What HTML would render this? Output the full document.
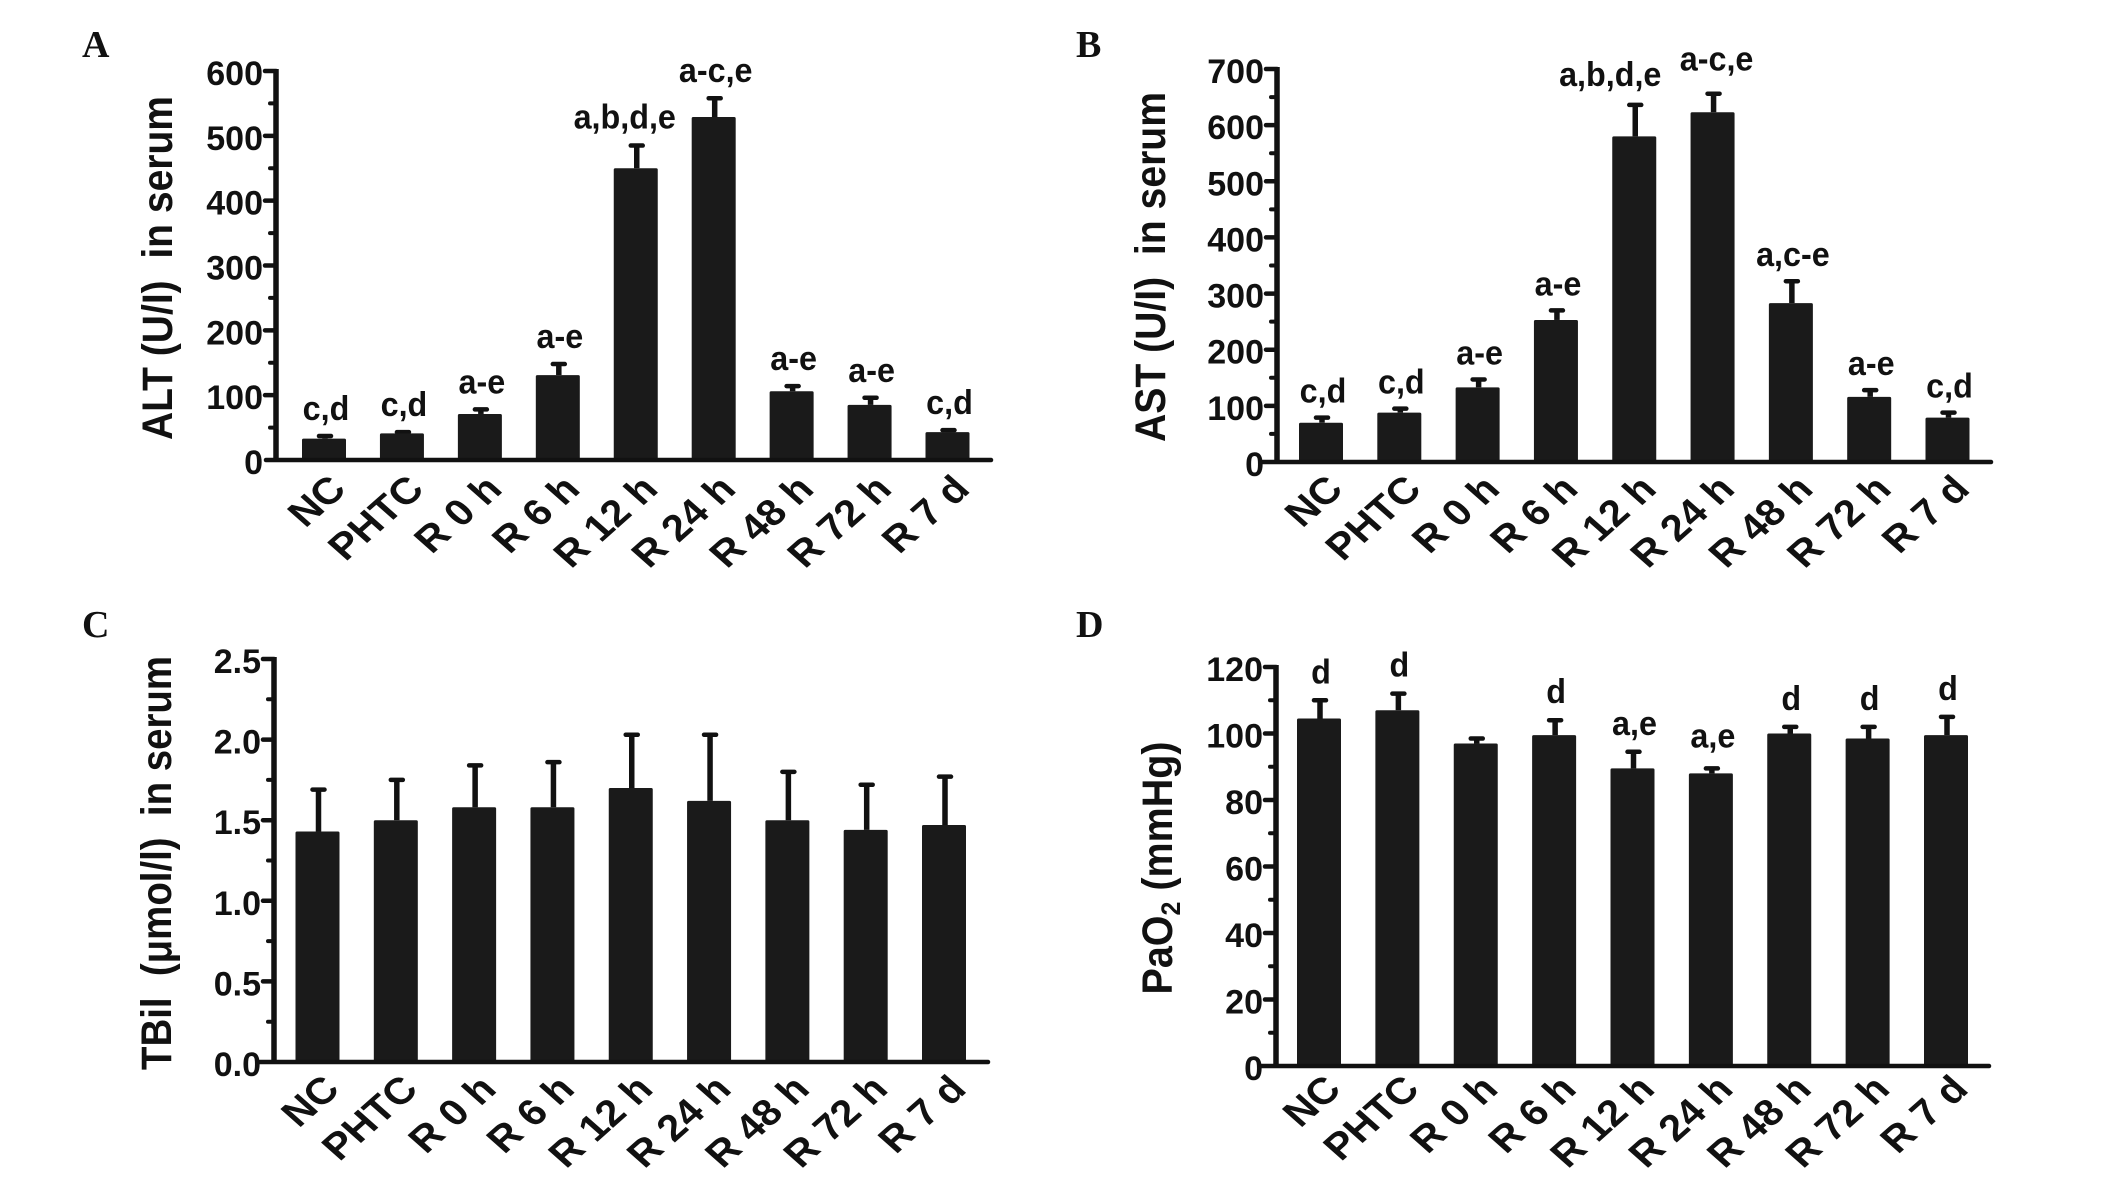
<!DOCTYPE html>
<html>
<head>
<meta charset="utf-8">
<title>Serum markers and PaO2 bar charts</title>
<style>
html,body{margin:0;padding:0;background:#fff}
svg{display:block}
text{font-family:"Liberation Sans",sans-serif;fill:#111;white-space:pre}
.tick{font-weight:bold;font-size:34px;text-anchor:end}
.cat{font-weight:bold;font-size:37px;text-anchor:end}
.ytitle{font-weight:bold;font-size:38px;text-anchor:middle}
.sig{font-weight:bold;font-size:34px;text-anchor:middle}
.panel{font-family:"Liberation Serif",serif;font-weight:bold;font-size:38px}
</style>
</head>
<body>
<svg id="chart" width="2126" height="1180" viewBox="0 0 2126 1180" xmlns="http://www.w3.org/2000/svg"></svg>
<script>
const categories = ["NC","PHTC","R 0 h","R 6 h","R 12 h","R 24 h","R 48 h","R 72 h","R 7 d"];

const altTicks = ["0","100","200","300","400","500","600"];
const altMeans = [33,41,71,131,450,529,106,85,43];
const altErrorTops = [37,43,78,148,485,558,114,96,46];
const altLetters = ["c,d","c,d","a-e","a-e","a,b,d,e","a-c,e","a-e","a-e","c,d"];

const astTicks = ["0","100","200","300","400","500","600","700"];
const astMeans = [70,88,133,253,580,623,283,116,79];
const astErrorTops = [79,95,147,270,636,656,322,128,88];
const astLetters = ["c,d","c,d","a-e","a-e","a,b,d,e","a-c,e","a,c-e","a-e","c,d"];

const tbilTicks = ["0.0","0.5","1.0","1.5","2.0","2.5"];
const tbilMeans = [1.43,1.50,1.58,1.58,1.70,1.62,1.50,1.44,1.47];
const tbilErrorTops = [1.69,1.75,1.84,1.86,2.03,2.03,1.80,1.72,1.77];
const tbilLetters = ["","","","","","","","",""];

const paoTicks = ["0","20","40","60","80","100","120"];
const paoMeans = [104.5,107,97,99.5,89.5,88,100,98.5,99.5];
const paoErrorTops = [110,112,98.5,104,94.5,89.5,102,102,105];
const paoLetters = ["d","d","","d","a,e","a,e","d","d","d"];

const NS = "http://www.w3.org/2000/svg";
const root = document.getElementById("chart");
const BAR = "#1a1a1a", INK = "#111";

function make(tag, parent, attrs) {
  const el = document.createElementNS(NS, tag);
  for (const k in attrs) el.setAttribute(k, attrs[k]);
  parent.appendChild(el);
  return el;
}

function drawPanel(cfg) {
  const g = make("g", root, {});
  
  

  const tickValues = cfg.ticks.map(parseFloat);
  const yMax = tickValues[tickValues.length - 1];
  const yScale = v => cfg.y0 - (v / yMax) * (cfg.y0 - cfg.yTop);
  const xScale = i => cfg.x0 + (cfg.x8 - cfg.x0) * i / (categories.length - 1);

  const letter = make("text", g, {class: "panel", x: cfg.letterX, y: cfg.letterY});
  letter.textContent = cfg.letter;
  
  

  // bars and error bars
  cfg.means.forEach((m, i) => {
    const cx = xScale(i);
    const top = yScale(cfg.errorTops[i]);
    const barTop = yScale(m);

    const stem = make("line", g, {x1: cx + cfg.errDx, x2: cx + cfg.errDx, y1: barTop, y2: top, stroke: INK, "stroke-width": 5.5});
    
    

    const cap = make("line", g, {x1: cx + cfg.errDx - 6, x2: cx + cfg.errDx + 6, y1: top, y2: top, stroke: INK, "stroke-width": 4.5, "stroke-linecap": "round"});
    
    

    const bar = make("rect", g, {x: cx - 22, y: barTop, width: 44, height: cfg.y0 - barTop, fill: BAR, rx: 1.5});
    
    

    if (cfg.letters[i]) {
      const nudge = (cfg.sigNudge && cfg.sigNudge[i]) || [0, 0];
      const sx = cx + 2 + nudge[0], sy = top - cfg.sigGap + nudge[1];
      const sig = make("text", g, {class: "sig", transform: `translate(${sx} ${sy}) scale(0.95 1)`});
      sig.textContent = cfg.letters[i];
      
      
    }

    const ax = cx + cfg.catDx, ay = cfg.y0 + cfg.catDy;
    const cat = make("text", g, {class: "cat", transform: `translate(${ax} ${ay}) scale(1.13 1) rotate(-45)`});
    cat.textContent = categories[i];
    
    
  });

  // y axis line
  const yAxis = make("line", g, {x1: cfg.axisX, x2: cfg.axisX, y1: yScale(yMax) - 2, y2: cfg.y0, stroke: INK, "stroke-width": 5.5});
  
  

  // x axis line
  const xAxis = make("line", g, {x1: cfg.xStart, x2: cfg.xEnd, y1: cfg.y0, y2: cfg.y0, stroke: INK, "stroke-width": 4.5, "stroke-linecap": "round"});
  
  

  // major ticks & labels, minor ticks at midpoints
  tickValues.forEach((v, i) => {
    const y = yScale(v);
    if (i > 0) {
      const mj = make("line", g, {x1: cfg.axisX - 11, x2: cfg.axisX, y1: y, y2: y, stroke: INK, "stroke-width": 4.5, "stroke-linecap": "round"});
      
      

      const mid = yScale((v + tickValues[i - 1]) / 2);
      const mn = make("line", g, {x1: cfg.axisX - 6, x2: cfg.axisX, y1: mid, y2: mid, stroke: INK, "stroke-width": 4, "stroke-linecap": "round"});
      
      
    }
    const lab = make("text", g, {class: "tick", x: cfg.axisX - 13, y: y + 14});
    lab.textContent = cfg.ticks[i];
    
    
  });

  // y axis title
  const title = make("text", g, {class: "ytitle", textLength: cfg.titleLen, lengthAdjust: "spacingAndGlyphs",
    transform: `translate(${cfg.titleX} ${cfg.titleY}) scale(1.12 1) rotate(-90)`});
  
  
  cfg.title.forEach(part => {
    const sp = make("tspan", title, part.sub ? {"font-size": 24, dy: 7} : (part.after ? {dy: -7} : {}));
    sp.textContent = part.t;
  });
}

drawPanel({id:"alt", letter:"A", letterX:82, letterY:57,
  ticks:altTicks, means:altMeans, errorTops:altErrorTops, letters:altLetters,
  yTop:71, y0:460, axisX:276, xStart:266, xEnd:991, x0:324, x8:947.5, errDx:1,
  sigGap:16, sigNudge:{4:[-13,-1]}, catDx:24, catDy:31,
  title:[{t:"ALT (U/I)  in serum"}], titleX:172, titleY:268, titleLen:344});

drawPanel({id:"ast", letter:"B", letterX:1076, letterY:57,
  ticks:astTicks, means:astMeans, errorTops:astErrorTops, letters:astLetters,
  yTop:69, y0:462, axisX:1277, xStart:1263, xEnd:1991, x0:1321, x8:1947.5, errDx:1,
  sigGap:15, sigNudge:{4:[-26,-4],5:[2,-8]}, catDx:24, catDy:29,
  title:[{t:"AST (U/I)  in serum"}], titleX:1165, titleY:267, titleLen:350});

drawPanel({id:"tbil", letter:"C", letterX:82, letterY:637,
  ticks:tbilTicks, means:tbilMeans, errorTops:tbilErrorTops, letters:tbilLetters,
  yTop:659, y0:1062, axisX:274, xStart:260, xEnd:988, x0:317.5, x8:944, errDx:1,
  sigGap:15, catDx:24, catDy:29,
  title:[{t:"TBil  (\u03BCmol/l)  in serum"}], titleX:171, titleY:863, titleLen:414});

drawPanel({id:"pao2", letter:"D", letterX:1076, letterY:637,
  ticks:paoTicks, means:paoMeans, errorTops:paoErrorTops, letters:paoLetters,
  yTop:667, y0:1066, axisX:1276, xStart:1261, xEnd:1989, x0:1319, x8:1946, errDx:1,
  sigGap:17, sigNudge:{5:[0,-4]}, catDx:24, catDy:25,
  title:[{t:"PaO"},{t:"2",sub:true},{t:" (mmHg)",after:true}], titleX:1172, titleY:868, titleLen:253});
</script>
</body>
</html>
